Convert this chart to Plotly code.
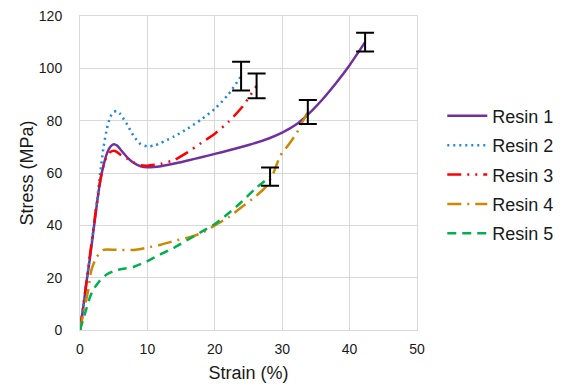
import plotly.graph_objects as go

# Stress-strain curves for five resins (strain in %, stress in MPa)
resin1_strain = [0, 0.5, 1, 1.5, 2, 2.5, 3, 3.5, 4, 4.5, 5, 5.5, 6, 7, 8, 9, 10, 12, 14, 16, 18, 20, 22, 25, 28, 30, 32, 34, 36, 38, 40, 42.3]
resin1_stress = [0, 9, 19, 28, 38, 48, 57, 63, 67.5, 70, 71, 70.5, 69, 66, 63.8, 62.6, 62.2, 62.6, 63.6, 64.8, 66, 67.3, 68.6, 70.7, 73.2, 75.4, 78.4, 82.8, 88.2, 94.4, 101.2, 110]

resin2_strain = [0, 1, 2, 2.5, 3, 3.5, 4, 4.5, 5, 5.5, 6, 7, 8, 9, 10, 11, 12, 14, 16, 18, 20, 22, 23.9]
resin2_stress = [0, 19, 39, 49, 60, 70, 77, 81.5, 83.3, 83.7, 82.5, 78.5, 74, 71, 70.2, 70.5, 71.5, 74, 77, 80.5, 84.5, 90, 97]

resin3_strain = [0, 1, 2, 3, 3.5, 4, 4.5, 5, 5.5, 6, 7, 8, 9, 10, 12, 14, 16, 18, 20, 22, 24, 26.2]
resin3_stress = [0, 19, 39, 57, 63, 66.5, 68, 68.5, 68, 67, 65.5, 64, 63, 62.8, 63.5, 65, 68, 71.5, 75, 79.5, 85, 93.3]

resin4_strain = [0, 0.5, 1.2, 1.7, 2.5, 3.5, 4, 6, 8, 10, 12, 14, 16, 18, 20, 22, 24, 26, 27.5, 28.7, 29.7, 31, 32.2, 33, 33.8]
resin4_stress = [0, 6.4, 15, 23, 28, 30.6, 30.8, 30.6, 30.6, 31.5, 32.6, 34, 35.3, 37, 40, 43, 47, 51, 54.5, 60, 66.5, 71, 75.5, 79.5, 83.3]

resin5_strain = [0, 0.75, 1.5, 2, 3, 4, 5, 6, 8, 10, 12, 14, 16, 18, 20, 22, 24, 26, 28.2]
resin5_stress = [0, 6.4, 12.7, 15.5, 19, 21.3, 22.5, 23.2, 24.2, 26.3, 29, 31.5, 34.5, 37.5, 40.5, 44.5, 49, 54, 58.6]

# End-point scatter (error bars) for each resin
bar_strain = [42.3, 23.9, 26.2, 33.8, 28.2]
bar_stress = [110, 97, 93.3, 83.3, 58.6]
bar_error = [3.6, 5.5, 4.7, 4.6, 3.5]

names = ["Resin 1", "Resin 2", "Resin 3", "Resin 4", "Resin 5"]
colors = ["#7030A0", "#1F88D6", "#FF0000", "#CC8800", "#00B050"]
dashes = ["solid", "2px,4px", "14px,6px,2px,6px,2px,6px", "14px,6px,2px,6px", "9px,6px"]
series = [
    (resin1_strain, resin1_stress),
    (resin2_strain, resin2_stress),
    (resin3_strain, resin3_stress),
    (resin4_strain, resin4_stress),
    (resin5_strain, resin5_stress),
]

font_family = "Liberation Sans, Arial, sans-serif"
fig = go.Figure()

for i, (sx, sy) in enumerate(series):
    fig.add_trace(go.Scatter(
        x=sx, y=sy, mode="lines", name=names[i],
        legendgroup=names[i],
        line=dict(color=colors[i], width=2.5, dash=dashes[i], shape="spline", smoothing=0.6),
    ))

for i in range(len(bar_strain)):
    fig.add_trace(go.Scatter(
        x=[bar_strain[i]], y=[bar_stress[i]], mode="markers",
        marker=dict(size=1, color="rgba(0,0,0,0)"),
        error_y=dict(type="data", array=[bar_error[i]], color="black", thickness=2, width=9),
        showlegend=False, hoverinfo="skip",
    ))

grid = "#D9D9D9"
fig.update_layout(
    width=571, height=384,
    margin=dict(l=80, r=154, t=16, b=54, autoexpand=False),
    paper_bgcolor="white", plot_bgcolor="white",
    font=dict(family=font_family, color="#1A1A1A"),
    legend=dict(
        x=1.075, y=0.495, xanchor="left", yanchor="middle",
        font=dict(size=18, color="#1A1A1A"),
        itemwidth=40, tracegroupgap=3,
        bgcolor="rgba(0,0,0,0)",
    ),
    xaxis=dict(
        range=[0, 50], dtick=10, showgrid=True, gridcolor=grid, gridwidth=1,
        zeroline=False, showline=True, linecolor=grid, mirror=True,
        tickfont=dict(size=14, color="#1A1A1A"), ticks="", ticklabelstandoff=6,
        title=dict(text="Strain (%)", font=dict(size=18, color="#1A1A1A"), standoff=10),
        automargin=False, fixedrange=True,
    ),
    yaxis=dict(
        range=[0, 120], dtick=20, showgrid=True, gridcolor=grid, gridwidth=1,
        zeroline=False, showline=True, linecolor=grid, mirror=True,
        tickfont=dict(size=14, color="#1A1A1A"), ticks="", ticklabelstandoff=14,
        title=dict(text="Stress (MPa)", font=dict(size=18, color="#1A1A1A"), standoff=0),
        automargin=False, fixedrange=True,
    ),
)

fig.write_html("out.html")
